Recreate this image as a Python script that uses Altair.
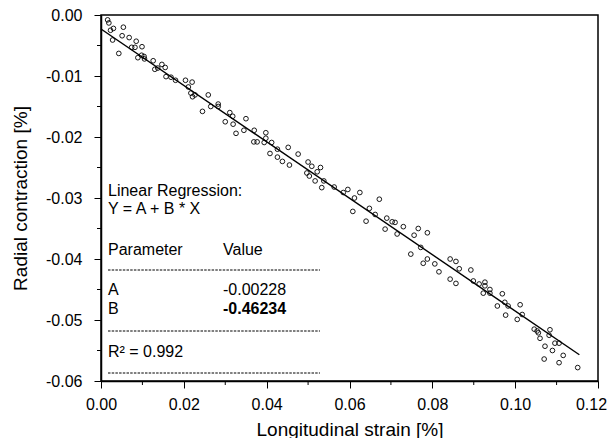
import altair as alt
import pandas as pd

# Scatter data: longitudinal strain [%] vs radial contraction [%]
strain = [
    0.0016, 0.0019, 0.0023, 0.0030, 0.0028, 0.0043, 0.0054, 0.0051, 0.0068, 0.0085,
    0.0074, 0.0082, 0.0099, 0.0089, 0.0098, 0.0104, 0.0105, 0.0126, 0.0130, 0.0137,
    0.0147, 0.0155, 0.0157, 0.0169, 0.0180, 0.0204, 0.0220, 0.0211, 0.0217, 0.0221,
    0.0227, 0.0245, 0.0259, 0.0265, 0.0283, 0.0283, 0.0300, 0.0311, 0.0318, 0.0319,
    0.0326, 0.0345, 0.0350, 0.0370, 0.0398, 0.0369, 0.0377, 0.0394, 0.0398, 0.0412,
    0.0408, 0.0426, 0.0426, 0.0438, 0.0452, 0.0455, 0.0476, 0.0500, 0.0509, 0.0497,
    0.0503, 0.0522, 0.0530, 0.0517, 0.0538, 0.0533, 0.0563, 0.0585, 0.0596, 0.0612,
    0.0608, 0.0625, 0.0640, 0.0648, 0.0662, 0.0672, 0.0686, 0.0690, 0.0703, 0.0710,
    0.0715, 0.0730, 0.0748, 0.0756, 0.0766, 0.0772, 0.0788, 0.0778, 0.0788, 0.0806,
    0.0816, 0.0843, 0.0857, 0.0865, 0.0843, 0.0857, 0.0893, 0.0899, 0.0913, 0.0927,
    0.0927, 0.0923, 0.0939, 0.0939, 0.0957, 0.0969, 0.0975, 0.0983, 0.0977, 0.1005,
    0.1012, 0.1017, 0.1046, 0.1053, 0.1056, 0.1060, 0.1072, 0.1070, 0.1084, 0.1082,
    0.1090, 0.1096, 0.1106, 0.1116, 0.1106, 0.1151,
]
contraction = [
    -0.0008, -0.0013, -0.0025, -0.0022, -0.0041, -0.0063, -0.0020, -0.0034, -0.0037, -0.0043,
    -0.0053, -0.0053, -0.0052, -0.0070, -0.0066, -0.0068, -0.0072, -0.0075, -0.0089, -0.0087,
    -0.0081, -0.0086, -0.0101, -0.0102, -0.0107, -0.0107, -0.0110, -0.0118, -0.0128, -0.0134,
    -0.0131, -0.0158, -0.0131, -0.0150, -0.0146, -0.0150, -0.0175, -0.0160, -0.0166, -0.0179,
    -0.0194, -0.0189, -0.0170, -0.0189, -0.0193, -0.0208, -0.0208, -0.0209, -0.0202, -0.0209,
    -0.0227, -0.0220, -0.0233, -0.0240, -0.0217, -0.0246, -0.0228, -0.0241, -0.0248, -0.0259,
    -0.0264, -0.0257, -0.0250, -0.0272, -0.0272, -0.0283, -0.0282, -0.0291, -0.0286, -0.0300,
    -0.0322, -0.0291, -0.0338, -0.0317, -0.0327, -0.0302, -0.0351, -0.0333, -0.0339, -0.0340,
    -0.0359, -0.0347, -0.0392, -0.0361, -0.0350, -0.0381, -0.0357, -0.0407, -0.0400, -0.0408,
    -0.0421, -0.0400, -0.0404, -0.0416, -0.0433, -0.0440, -0.0418, -0.0436, -0.0441, -0.0438,
    -0.0444, -0.0456, -0.0450, -0.0456, -0.0477, -0.0457, -0.0471, -0.0477, -0.0492, -0.0499,
    -0.0475, -0.0491, -0.0515, -0.0518, -0.0521, -0.0530, -0.0543, -0.0564, -0.0516, -0.0525,
    -0.0550, -0.0538, -0.0538, -0.0558, -0.0570, -0.0578,
]

# Regression line endpoints (as drawn)
fit_x = [0.0, 0.1155]
fit_y = [-0.0023, -0.0557]

# Tick values
x_major = [0.00, 0.02, 0.04, 0.06, 0.08, 0.10, 0.12]
x_minor = [0.01, 0.03, 0.05, 0.07, 0.09, 0.11]
y_major = [0.00, -0.01, -0.02, -0.03, -0.04, -0.05, -0.06]
y_minor = [-0.005, -0.015, -0.025, -0.035, -0.045, -0.055]

# Annotation texts
ann_title = ["Linear Regression:", "Y = A + B * X"]
ann_param = ["Parameter", "A", "B"]
ann_value = ["Value", "-0.00228", "-0.46234"]
ann_r2 = "R\u00b2 = 0.992"

FONT = "Liberation Sans"
W, H = 497, 366

pts = pd.DataFrame({"x": strain, "y": contraction})
fit = pd.DataFrame({"x": fit_x, "y": fit_y})

xs = alt.Scale(domain=[0, 0.12], nice=False, zero=False)
ys = alt.Scale(domain=[-0.06, 0], nice=False, zero=False)

x_axis = alt.Axis(
    values=x_major, format=".2f", title="Longitudinal strain [%]",
    tickSize=7, labelPadding=8, titlePadding=8, grid=False, labelFlush=False,
    labelOffset={"condition": {"test": "datum.value > 0.119", "value": -7}, "value": 0},
)
y_axis = alt.Axis(
    values=y_major,
    labelExpr="datum.value == 0 ? '0.00' : '-' + format(abs(datum.value), '.2f')",
    title="Radial contraction [%]",
    tickSize=7, labelPadding=12, titlePadding=15, grid=False, labelFlush=False,
)

scatter = alt.Chart(pts).mark_point(
    shape="circle", filled=False, size=22, strokeWidth=0.9, color="black", opacity=1
).encode(
    x=alt.X("x:Q", scale=xs, axis=x_axis),
    y=alt.Y("y:Q", scale=ys, axis=y_axis),
)

line = alt.Chart(fit).mark_line(color="black", strokeWidth=1.4).encode(
    x=alt.X("x:Q", scale=xs), y=alt.Y("y:Q", scale=ys)
)

xminor = alt.Chart(pd.DataFrame({"x": x_minor})).mark_rule(
    color="black", strokeWidth=1
).encode(x=alt.X("x:Q", scale=xs), y=alt.value(H), y2=alt.value(H + 4))

yminor = alt.Chart(pd.DataFrame({"y": y_minor})).mark_rule(
    color="black", strokeWidth=1
).encode(y=alt.Y("y:Q", scale=ys), x=alt.value(0), x2=alt.value(-4))


def txt(s, x, y, bold=False):
    return alt.Chart(pd.DataFrame({"t": [s]})).mark_text(
        align="left", baseline="alphabetic", font=FONT, fontSize=16,
        fontWeight="bold" if bold else "normal", color="black",
    ).encode(text="t:N", x=alt.value(x), y=alt.value(y))


def dash(y):
    return alt.Chart(pd.DataFrame({"a": [0]})).mark_rule(
        color="black", strokeWidth=1, strokeDash=[2.5, 1.2]
    ).encode(x=alt.value(7), x2=alt.value(219), y=alt.value(y))


texts = [
    txt(ann_title[0], 7, 181),
    txt(ann_title[1], 7, 199),
    txt(ann_param[0], 7, 240),
    txt(ann_value[0], 122, 240),
    txt(ann_param[1], 7, 280),
    txt(ann_value[1], 122, 280),
    txt(ann_param[2], 7, 299),
    txt(ann_value[2], 122, 299, bold=True),
    txt(ann_r2, 7, 342),
    dash(255), dash(316), dash(358),
]

chart = alt.layer(xminor, yminor, line, scatter, *texts).properties(
    width=W, height=H,
    autosize=alt.AutoSizeParams(type="none"),
    padding={"left": 93, "top": 7, "right": 10, "bottom": 57},
).configure_view(
    stroke="black", strokeWidth=1.5
).configure_axis(
    domainColor="black", domainWidth=1.5, tickColor="black", tickWidth=1,
    labelColor="black", titleColor="black", labelFont=FONT, titleFont=FONT,
    labelFontSize=16, titleFontSize=19, titleFontWeight="normal",
)

chart.save("out.html", embed_options={"renderer": "svg", "actions": False})
